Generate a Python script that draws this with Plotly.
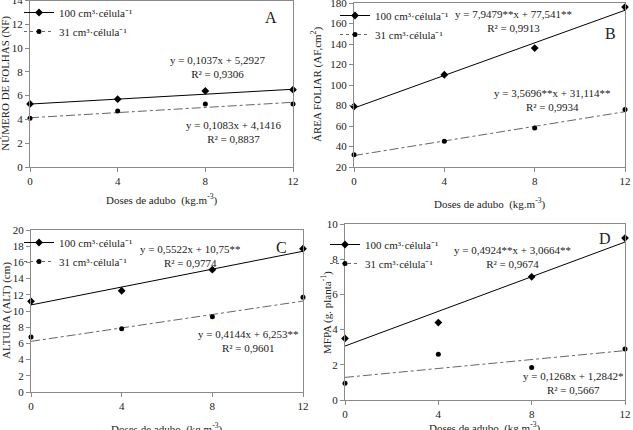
import plotly.graph_objects as go

W, H = 633, 430

doses = [0, 4, 8, 12]
xticks = [0, 4, 8, 12]

# Panel A - Número de folhas
a_100 = [5.3, 5.7, 6.4, 6.5]
a_31 = [4.1, 4.7, 5.3, 5.3]
a_fit_100 = (0.1037, 5.2927)
a_fit_31 = (0.1083, 4.1416)

# Panel B - Área foliar
b_100 = [79, 110, 136, 176]
b_31 = [32, 45, 58, 76]
b_fit_100 = (7.9479, 77.541)
b_fit_31 = (3.5696, 31.114)

# Panel C - Altura
c_100 = [11.2, 12.5, 15.1, 17.7]
c_31 = [6.8, 7.8, 9.3, 11.7]
c_fit_100 = (0.5522, 10.75)
c_fit_31 = (0.4144, 6.253)

# Panel D - MFPA
d_100 = [3.5, 4.4, 7.0, 9.2]
d_31 = [0.95, 2.6, 1.85, 2.9]
d_fit_100 = (0.4924, 3.0664)
d_fit_31 = (0.1268, 1.2842)

series_names = ["100 cm³·célula⁻¹", "31 cm³·célula⁻¹"]

FONT = "Liberation Serif"
GRAY = "#8a8a8a"
TXT = "#222"


def px_x(p):
    return p / W


def px_y(p):
    return 1 - p / H


panels = [
    dict(key="", data=(a_100, a_31), fits=(a_fit_100, a_fit_31), yr=[0, 14], dt=2,
         dom_x=(30, 293), dom_y=(0.5, 167), legend="legend", leg=(19, -2),
         ytitle="NÚMERO DE FOLHAS (NF)", ytx=6, letter="A", let_xy=(271, 17),
         eq1=("y = 0,1037x + 5,2927<br>R² = 0,9306", 217, 67),
         eq2=("y = 0,1083x + 4,1416<br>R² = 0,8837", 233, 132), xt_y=199),
    dict(key="2", data=(b_100, b_31), fits=(b_fit_100, b_fit_31), yr=[20, 180], dt=20,
         dom_x=(354, 625), dom_y=(3, 167), legend="legend2", leg=(335, 1),
         ytitle="ÁREA FOLIAR (AF,cm<sup>2</sup>)", ytx=316, letter="B", let_xy=(610, 33),
         eq1=("y = 7,9479**x + 77,541**<br>R² = 0,9913", 513, 21),
         eq2=("y = 3,5696**x + 31,114**<br>R² = 0,9934", 552, 100), xt_y=203),
    dict(key="3", data=(c_100, c_31), fits=(c_fit_100, c_fit_31), yr=[0, 20], dt=2,
         dom_x=(31, 303), dom_y=(230, 392), legend="legend3", leg=(19, 228),
         ytitle="ALTURA (ALT) (cm)", ytx=6, letter="C", let_xy=(281, 247),
         eq1=("y = 0,5522x + 10,75**<br>R² = 0,9774", 190, 256),
         eq2=("y = 0,4144x + 6,253**<br>R² = 0,9601", 248, 341), xt_y=428),
    dict(key="4", data=(d_100, d_31), fits=(d_fit_100, d_fit_31), yr=[0, 10], dt=2,
         dom_x=(345, 625), dom_y=(224, 400), legend="legend4", leg=(325, 230),
         ytitle="MFPA (g. planta<sup>-1</sup>)", ytx=326, letter="D", let_xy=(605, 238),
         eq1=("y = 0,4924**x + 3,0664**<br>R² = 0,9674", 512, 257),
         eq2=("y = 0,1268x + 1,2842*<br>R² = 0,5667", 573, 383), xt_y=427),
]

fig = go.Figure()
layout = dict(
    template="none",
    width=W, height=H, margin=dict(l=0, r=0, t=0, b=0, pad=0, autoexpand=False),
    paper_bgcolor="white", plot_bgcolor="white",
    font=dict(family=FONT, size=11, color=TXT),
    annotations=[],
)

for p in panels:
    k = p["key"]
    xa, ya = "x" + k, "y" + k
    xname, yname = "xaxis" + k, "yaxis" + k
    d100, d31 = p["data"]
    f100, f31 = p["fits"]
    xs = [doses[0], doses[-1]]
    # trend lines
    fig.add_trace(go.Scatter(x=xs, y=[f100[0] * v + f100[1] for v in xs], mode="lines",
                             line=dict(color="black", width=1), xaxis=xa, yaxis=ya,
                             showlegend=False, hoverinfo="skip", cliponaxis=False))
    fig.add_trace(go.Scatter(x=xs, y=[f31[0] * v + f31[1] for v in xs], mode="lines",
                             line=dict(color="#666", width=1, dash="dashdot"), xaxis=xa, yaxis=ya,
                             showlegend=False, hoverinfo="skip", cliponaxis=False))
    # data points
    fig.add_trace(go.Scatter(x=doses, y=d100, mode="markers",
                             marker=dict(symbol="diamond", size=6, color="black"),
                             xaxis=xa, yaxis=ya, showlegend=False, cliponaxis=False))
    fig.add_trace(go.Scatter(x=doses, y=d31, mode="markers",
                             marker=dict(symbol="circle", size=5, color="black"),
                             xaxis=xa, yaxis=ya, showlegend=False, cliponaxis=False))
    # legend entries
    fig.add_trace(go.Scatter(x=[None], y=[None], mode="lines+markers", name=series_names[0],
                             line=dict(color="black", width=1),
                             marker=dict(symbol="diamond", size=6, color="black"),
                             xaxis=xa, yaxis=ya, legend=p["legend"]))
    fig.add_trace(go.Scatter(x=[None], y=[None], mode="lines+markers", name=series_names[1],
                             line=dict(color="#666", width=1, dash="dot"),
                             marker=dict(symbol="circle", size=5, color="black"),
                             xaxis=xa, yaxis=ya, legend=p["legend"]))
    x0, x1 = p["dom_x"]
    yt, yb = p["dom_y"]
    axcommon = dict(showline=True, linecolor=GRAY, linewidth=1, mirror=True, showgrid=False,
                    zeroline=False, ticks="outside", ticklen=4, tickcolor=GRAY,
                    automargin=False, ticklabeloverflow="allow",
                    tickfont=dict(family=FONT, size=11, color=TXT))
    layout[xname] = dict(axcommon, domain=[px_x(x0), px_x(x1)], range=[0, 12],
                         tickvals=xticks, anchor=ya)
    layout[yname] = dict(axcommon, domain=[px_y(yb), px_y(yt)], range=p["yr"],
                         dtick=p["dt"], tick0=0, anchor=xa)
    layout[p["legend"]] = dict(x=px_x(p["leg"][0]), y=px_y(p["leg"][1]), xanchor="left",
                               yanchor="top", bgcolor="rgba(0,0,0,0)",
                               font=dict(family=FONT, size=11, color=TXT),
                               itemwidth=30, tracegroupgap=0)
    ann = layout["annotations"]
    common = dict(xref="paper", yref="paper", showarrow=False, xanchor="center",
                  yanchor="middle")
    ann.append(dict(common, text=p["letter"], x=px_x(p["let_xy"][0]), y=px_y(p["let_xy"][1]),
                    font=dict(family=FONT, size=16, color=TXT)))
    for txt, ex, ey in (p["eq1"], p["eq2"]):
        ann.append(dict(common, text=txt, x=px_x(ex), y=px_y(ey), align="center",
                        font=dict(family=FONT, size=11, color=TXT)))
    ann.append(dict(common, text=p["ytitle"], x=px_x(p["ytx"]), y=px_y((yt + yb) / 2),
                    textangle=-90, font=dict(family=FONT, size=11, color=TXT)))
    ann.append(dict(common, text="Doses de adubo  (kg.m<sup>-3</sup>)", x=px_x((x0 + x1) / 2),
                    y=px_y(p["xt_y"]), font=dict(family=FONT, size=11, color=TXT)))

fig.update_layout(**layout)
fig.write_html("out.html", config={"displayModeBar": False},
               post_script="document.body.style.margin='0px';")
